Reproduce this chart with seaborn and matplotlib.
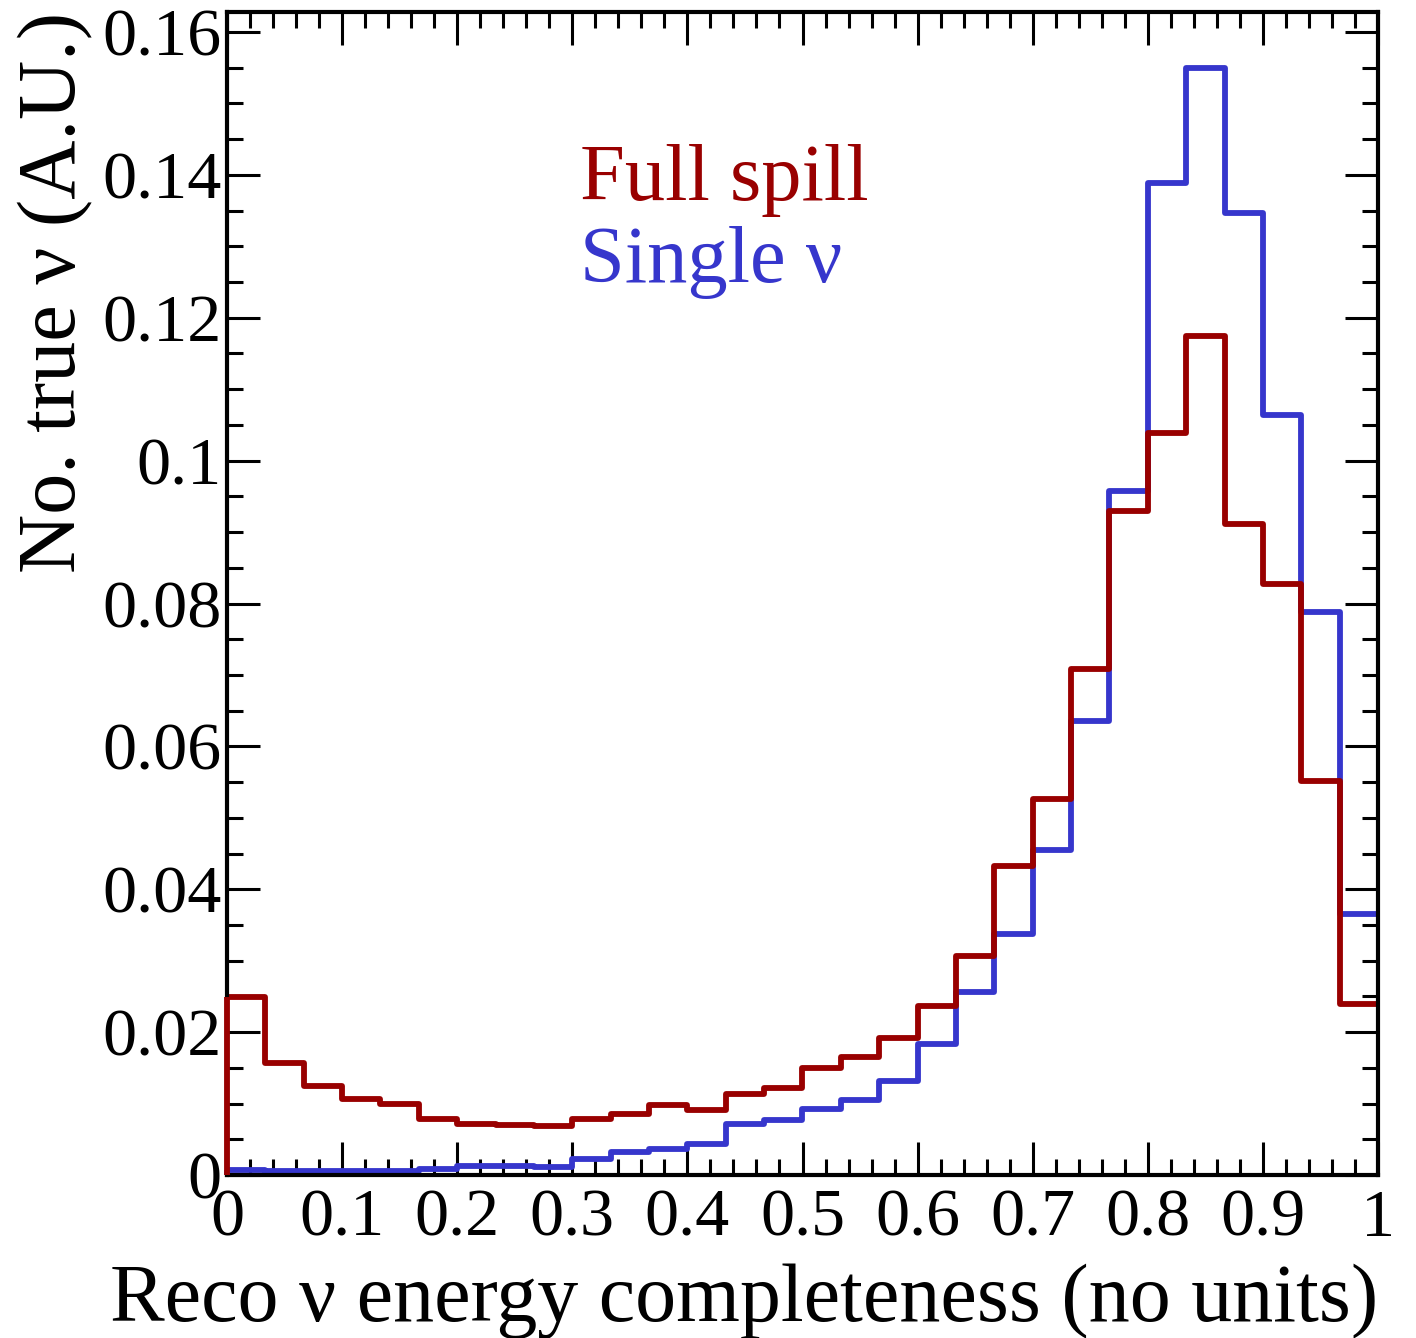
import numpy as np
import pandas as pd
import seaborn as sns
import matplotlib
matplotlib.use("Agg")
import matplotlib.pyplot as plt
from matplotlib.ticker import MultipleLocator, FuncFormatter

# ---- data (30 bins from 0 to 1) ----
n_bins = 30
x_range = (0.0, 1.0)
full_spill = [0.0249, 0.0157, 0.0125, 0.0106, 0.0099, 0.0078, 0.0072, 0.0070, 0.0068, 0.0078,
              0.0085, 0.0098, 0.0091, 0.0114, 0.0122, 0.0150, 0.0165, 0.0192, 0.0236, 0.0306,
              0.0433, 0.0526, 0.0708, 0.0929, 0.1039, 0.1174, 0.0911, 0.0827, 0.0552, 0.0240]
single_nu = [0.0007, 0.0006, 0.0006, 0.0006, 0.0006, 0.0008, 0.0013, 0.0013, 0.0011, 0.0023,
             0.0032, 0.0037, 0.0044, 0.0072, 0.0077, 0.0093, 0.0105, 0.0131, 0.0184, 0.0256,
             0.0338, 0.0455, 0.0635, 0.0958, 0.1388, 0.1550, 0.1347, 0.1064, 0.0788, 0.0365]
labels = ["Full spill", "Single \u03bd"]
colors = ["#990000", "#3636cc"]

bin_edges = np.linspace(x_range[0], x_range[1], n_bins + 1)
centers = 0.5 * (bin_edges[:-1] + bin_edges[1:])
df = pd.concat([
    pd.DataFrame({"x": centers, "w": single_nu, "series": labels[1]}),
    pd.DataFrame({"x": centers, "w": full_spill, "series": labels[0]}),
])

sns.set_theme(style="white")
plt.rcParams["font.family"] = ["Liberation Serif", "DejaVu Serif"]
for k in ["text.color", "axes.labelcolor", "xtick.color", "ytick.color", "axes.edgecolor"]:
    plt.rcParams[k] = "black"

fig = plt.figure(figsize=(14.16, 13.38), dpi=100)
ax = fig.add_axes([227 / 1416, 1 - 1175 / 1338, (1378 - 227) / 1416, (1175 - 12) / 1338])

lw = 4.2
for lab, col in [(labels[1], colors[1]), (labels[0], colors[0])]:
    sub = df[df["series"] == lab]
    sns.histplot(data=sub, x="x", weights="w", bins=n_bins, binrange=x_range, element="step",
                 fill=False, color=col, linewidth=lw, ax=ax)
    vals = sub["w"].to_numpy()
    ax.vlines([bin_edges[0]], 0, vals[0], color=col, linewidth=lw, zorder=5, clip_on=False)

ax.set_xlim(0, 1)
ax.set_ylim(0, 0.1628)

ax.xaxis.set_major_locator(MultipleLocator(0.1))
ax.xaxis.set_minor_locator(MultipleLocator(0.02))
ax.yaxis.set_major_locator(MultipleLocator(0.02))
ax.yaxis.set_minor_locator(MultipleLocator(0.005))

def fmt(v, pos):
    return f"{v:.2f}".rstrip("0").rstrip(".")
ax.xaxis.set_major_formatter(FuncFormatter(fmt))
ax.yaxis.set_major_formatter(FuncFormatter(fmt))

ax.tick_params(which="both", direction="in", top=True, right=True, bottom=True, left=True,
               width=2.2, color="black", labelcolor="black")
ax.tick_params(which="major", length=24, labelsize=49)
ax.tick_params(which="minor", length=11.5)
ax.tick_params(axis="y", which="major", pad=4)
ax.tick_params(axis="x", which="major", pad=10)

for sp in ax.spines.values():
    sp.set_linewidth(3)
    sp.set_color("black")
    sp.set_visible(True)
    sp.set_zorder(4)

ax.set_xlabel("Reco \u03bd energy completeness (no units)", fontsize=59, loc="right", labelpad=10)
ax.set_ylabel("No. true \u03bd (A.U.)", fontsize=59, loc="top", labelpad=6)

ax.text(0.307, 0.838, labels[0], color=colors[0], fontsize=58, transform=ax.transAxes,
        ha="left", va="baseline")
ax.text(0.307, 0.768, labels[1], color=colors[1], fontsize=58, transform=ax.transAxes,
        ha="left", va="baseline")

fig.savefig("out.png", dpi=100, facecolor="white")
